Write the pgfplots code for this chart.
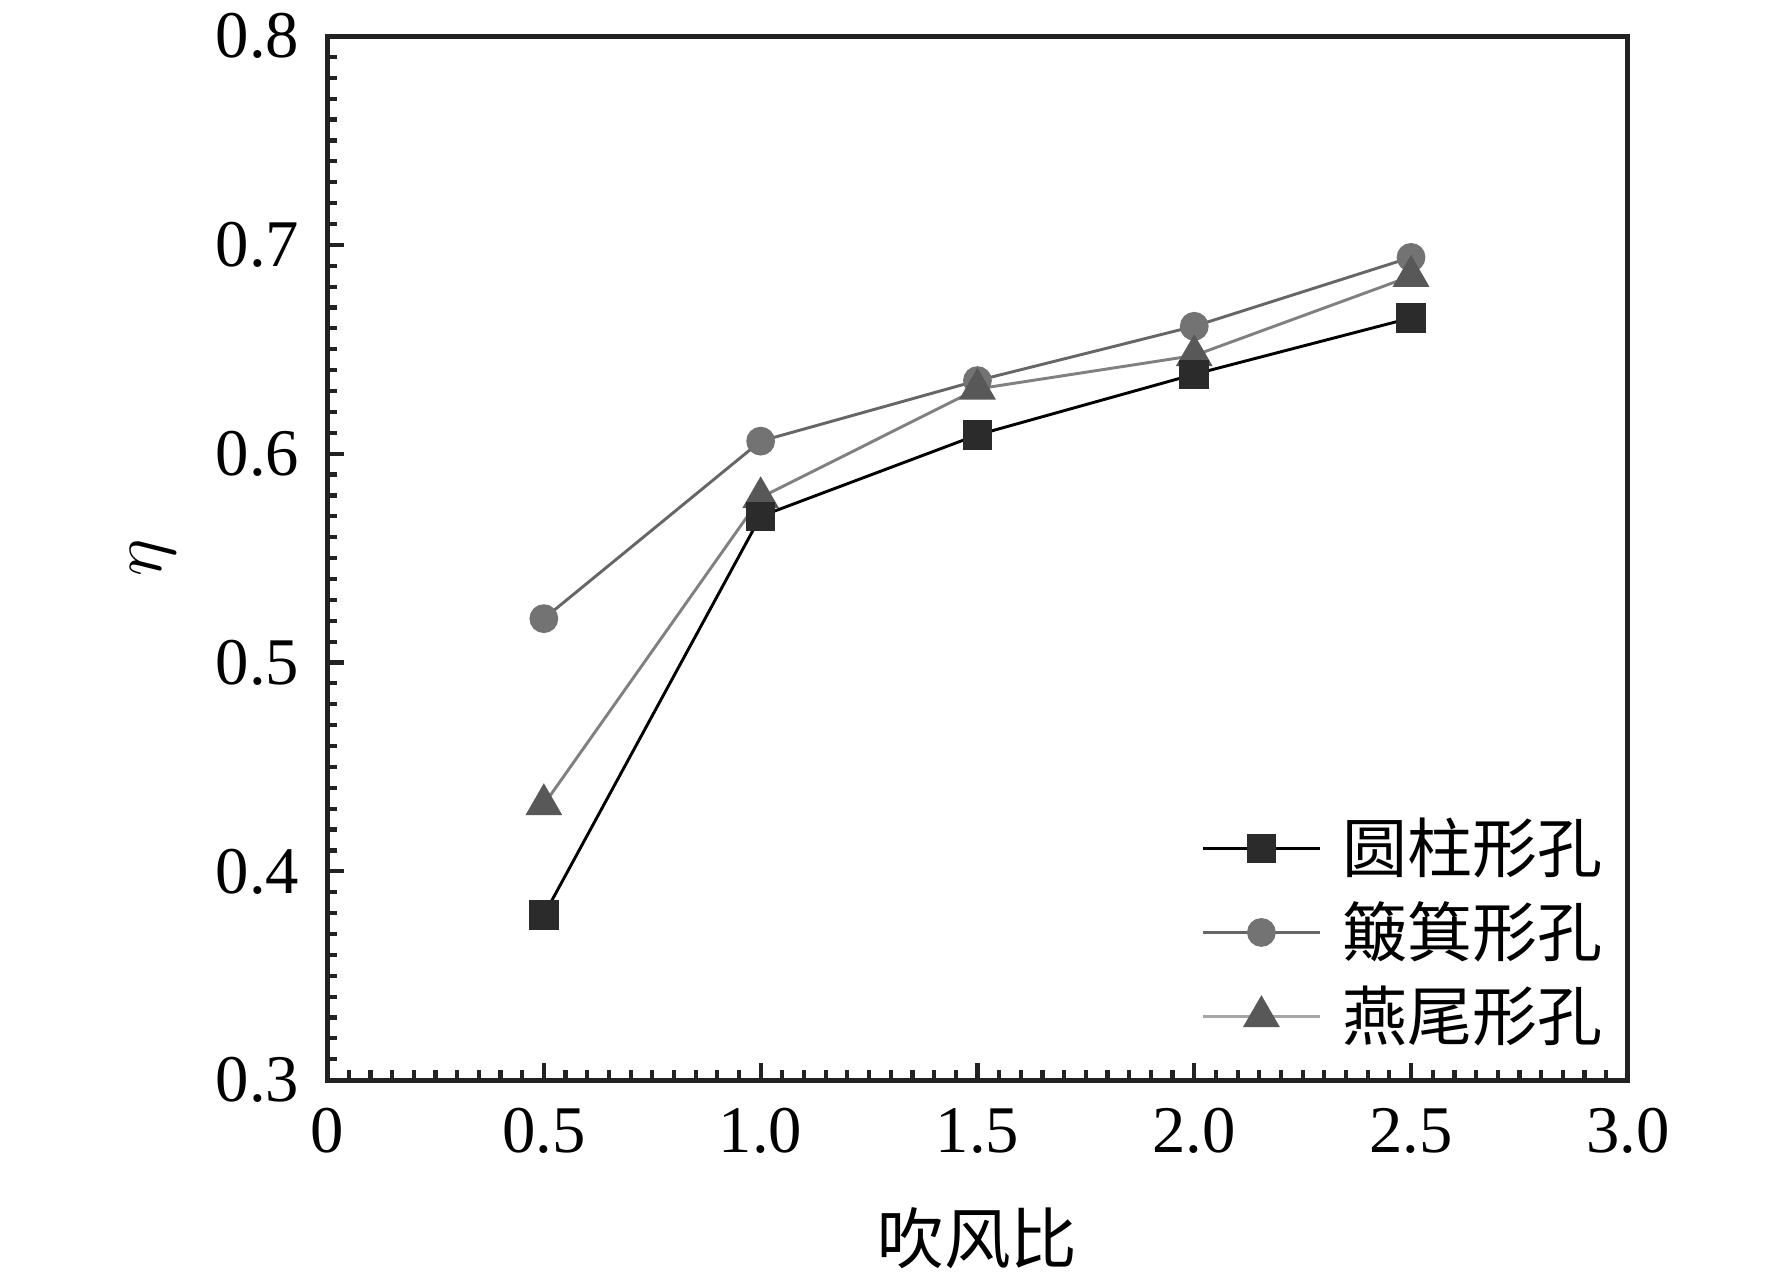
\documentclass[border=0pt]{standalone}
\usepackage{pgfplots}
\pgfplotsset{compat=1.18}
\usepackage{fontspec}
\setmainfont{Liberation Serif}
\newfontfamily\cjk{Noto Sans CJK SC}
\definecolor{sqfill}{HTML}{2B2B2B}
\definecolor{cifill}{HTML}{737373}
\definecolor{ciline}{HTML}{666666}
\definecolor{trfill}{HTML}{585858}
\definecolor{trline}{HTML}{808080}
\definecolor{axcol}{HTML}{222222}
\begin{document}
\begin{tikzpicture}
\useasboundingbox (-78.5pt,-46.6pt) rectangle (346.8pt,259.24pt);
\begin{axis}[
  at={(0,0)}, anchor=south west,
  scale only axis, width=312.2pt, height=250.6pt,
  xmin=0, xmax=3, ymin=0.3, ymax=0.8,
  xtick={0,0.5,1,1.5,2,2.5,3},
  xticklabels={0,0.5,1.0,1.5,2.0,2.5,3.0},
  ytick={0.3,0.4,0.5,0.6,0.7,0.8},
  yticklabels={0.3,0.4,0.5,0.6,0.7,0.8},
  minor x tick num=9, minor y tick num=9,
  xtick pos=bottom, ytick pos=left,
  tick align=inside,
  major tick length=4pt, minor tick length=2.4pt,
  every tick/.style={axcol, line width=1pt},
  axis line style={axcol, line width=1.2pt},
  tick label style={font=\fontsize{16}{19}\selectfont, inner sep=0pt},
  yticklabel style={xshift=-6.5pt},
  xticklabel style={yshift=-6.5pt},
  /pgf/number format/assume math mode=true,
  xlabel={\cjk 吹风比},
  ylabel={$\eta$},
  xlabel style={at={(axis description cs:0.5,-0.1516)}, anchor=center, font=\fontsize{16}{19}\selectfont},
  ylabel style={at={(axis description cs:-0.134,0.5)}, anchor=center, font=\fontsize{17}{19}\selectfont},
  legend style={draw=none, fill=none, inner sep=0pt,
    at={(axis description cs:1,0)}, anchor=south east, xshift=-6pt, yshift=7.8pt,
    font=\cjk\fontsize{15.6}{19}\selectfont, row sep=5.5pt, column sep=5pt,
    nodes={inner sep=0pt}},
  legend cell align=left,
  legend image code/.code={\draw[mark repeat=2,mark phase=2] plot coordinates {(0pt,0pt) (14pt,0pt) (28pt,0pt)};},
]
\addlegendimage{black, line width=0.7pt, mark=square*, mark size=3.2pt, mark options={fill=sqfill, draw=sqfill, solid}}
\addlegendentry{圆柱形孔}
\addlegendimage{ciline, line width=0.7pt, mark=*, mark size=3.1pt, mark options={fill=cifill, draw=cifill, solid}}
\addlegendentry{簸箕形孔}
\addlegendimage{trline!70, line width=0.7pt, mark=triangle*, mark size=4.4pt, mark options={fill=trfill, draw=trfill, solid}}
\addlegendentry{燕尾形孔}
\addplot[forget plot, ciline, line width=0.7pt, mark=*, mark size=3.1pt, mark options={fill=cifill, draw=cifill, solid}]
  coordinates {(0.5,0.521) (1,0.606) (1.5,0.635) (2,0.661) (2.5,0.694)};
\addplot[forget plot, trline, line width=0.7pt, mark=triangle*, mark size=4.4pt, mark options={fill=trfill, draw=trfill, solid}]
  coordinates {(0.5,0.432) (1,0.579) (1.5,0.631) (2,0.647) (2.5,0.685)};
\addplot[forget plot, black, line width=0.7pt, mark=square*, mark size=3.2pt, mark options={fill=sqfill, draw=sqfill, solid}]
  coordinates {(0.5,0.379) (1,0.570) (1.5,0.609) (2,0.638) (2.5,0.665)};
\end{axis}
\end{tikzpicture}
\end{document}
